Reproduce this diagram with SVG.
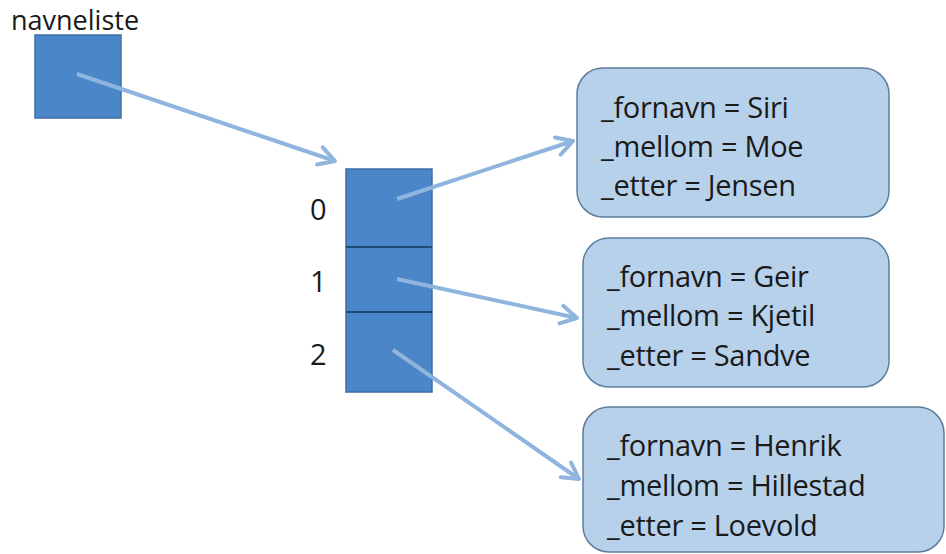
<svg xmlns="http://www.w3.org/2000/svg" width="946" height="554" viewBox="0 0 946 554">
<style>
text{font-family:"Open Sans","Liberation Sans",sans-serif;fill:#1a1a1a}
.t{font-size:29px;letter-spacing:-0.3px}
.cell{fill:#4a86c8;stroke:#3d6fa3;stroke-width:1.5}
.box{fill:#b7d1ea;stroke:#5d7e9f;stroke-width:1.5}
.conn{stroke:#8fb5df;stroke-width:4;fill:none;marker-end:url(#ah)}
</style>
<defs>
<marker id="ah" markerUnits="userSpaceOnUse" viewBox="-20 -12 22 24" markerWidth="22" markerHeight="24" refX="0" refY="0" orient="auto">
<polyline points="-16,-9 0,0 -16,9" fill="none" stroke="#8fb5df" stroke-width="4" stroke-linecap="round" stroke-linejoin="round"/>
</marker>
</defs>
<rect width="946" height="554" fill="#fff"/>
<g id="navneliste">
<text x="11" y="30" style="font-size:27px">navneliste</text>
<rect class="cell" x="35" y="35" width="86" height="83"/>
</g>
<g id="array">
<rect class="cell" x="346" y="169" width="86" height="223"/>
<line x1="346" y1="247" x2="432" y2="247" stroke="#1f4a78" stroke-width="2"/>
<line x1="346" y1="312" x2="432" y2="312" stroke="#1f4a78" stroke-width="2"/>
<text class="t" x="310" y="220">0</text>
<text class="t" x="310" y="292">1</text>
<text class="t" x="310" y="365">2</text>
</g>
<g id="person0">
<rect class="box" x="577" y="68" width="312" height="149" rx="26"/>
<text class="t" x="601" y="118">_fornavn = Siri</text>
<text class="t" x="601" y="157">_mellom = Moe</text>
<text class="t" x="601" y="196">_etter = Jensen</text>
</g>
<g id="person1">
<rect class="box" x="583" y="238" width="306" height="149" rx="26"/>
<text class="t" x="607" y="287">_fornavn = Geir</text>
<text class="t" x="607" y="326">_mellom = Kjetil</text>
<text class="t" x="607" y="366">_etter = Sandve</text>
</g>
<g id="person2">
<rect class="box" x="583" y="407" width="361" height="145" rx="26"/>
<text class="t" x="607" y="456">_fornavn = Henrik</text>
<text class="t" x="607" y="496">_mellom = Hillestad</text>
<text class="t" x="607" y="536">_etter = Loevold</text>
</g>
<g id="connectors">
<line class="conn" x1="77" y1="74" x2="335" y2="161"/>
<line class="conn" x1="397" y1="199" x2="573" y2="141"/>
<line class="conn" x1="397" y1="279" x2="577" y2="318"/>
<line class="conn" x1="393" y1="350" x2="579" y2="479"/>
</g>
</svg>
